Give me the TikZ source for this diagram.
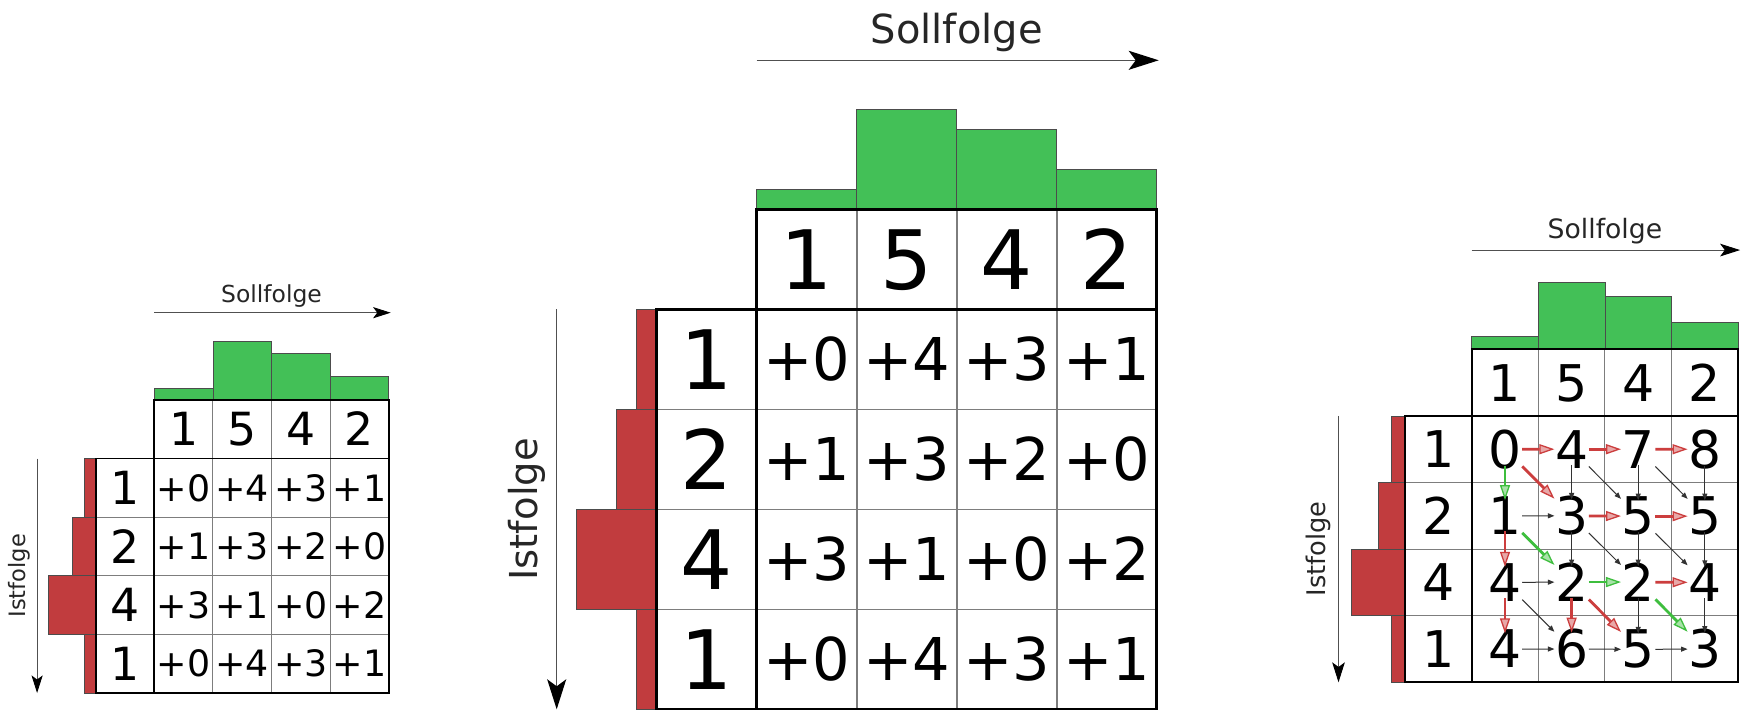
\documentclass[tikz,border=0pt]{standalone}
\usepackage{fontspec}
\setmainfont{DejaVu Sans}
\usetikzlibrary{arrows.meta}

\definecolor{barGreen}{RGB}{67,192,87}
\definecolor{barRed}{RGB}{193,60,62}
\definecolor{gridGray}{RGB}{125,125,125}
\definecolor{pathRed}{RGB}{204,62,62}
\definecolor{pathGreen}{RGB}{62,190,62}
\definecolor{axisGray}{RGB}{80,80,80}

\tikzset{
  digit/.style={inner sep=0pt, anchor=base, text=black},
  cellnum/.style={inner sep=0.5pt, anchor=base, text=black},
  blkarrow/.style={-{Triangle[length=6.5pt,width=5pt]}, line width=1pt, draw=black!80},
  redarrow/.style={-{Triangle[length=15pt,width=10pt,line width=1.3pt,fill=pathRed!45]}, line width=2.8pt, draw=pathRed},
  grnarrow/.style={-{Triangle[length=15pt,width=10pt,line width=1.3pt,fill=pathGreen!45]}, line width=2.8pt, draw=pathGreen},
  vert/.style={shorten <=-4pt, shorten >=-4pt},
}

% Frame, histograms, header, row labels and direction arrows of one table.
% #1 name prefix, #2 x of first data column, #3 y of header top, #4 cell size,
% #5 digit size factor for header and row labels
\newcommand\tablepanel[5]{%
 \begin{scope}[shift={(#2,#3)}]
  \pgfmathsetmacro\cellw{#4}
  \pgfmathsetmacro\barunit{#4/5}
  \pgfmathsetmacro\lwA{0.028*#4}
  \pgfmathsetmacro\lwB{0.016*#4}
  \pgfmathsetmacro\lwC{0.011*#4}
  \pgfmathsetmacro\lwD{0.015*#4}
  \pgfmathsetmacro\emBig{#5*#4}
  \pgfmathsetmacro\emLab{0.4*#4}
  \pgfmathsetmacro\emIst{0.385*#4}
  \pgfmathsetmacro\tipL{0.3*#4}
  \pgfmathsetmacro\tipW{0.19*#4}
  \pgfmathsetmacro\tipI{0.07*#4}
  % histogram of the target sequence
  \foreach \v [count=\i from 0] in {1,5,4,2}
    \filldraw[fill=barGreen, draw=black!70, line width=\lwC pt]
      (\i*\cellw,0) rectangle ({(\i+1)*\cellw},{-\v*\barunit});
  % histogram of the actual sequence
  \foreach \v [count=\j from 1] in {1,2,4,1}
    \filldraw[fill=barRed, draw=black!70, line width=\lwC pt]
      ({-\cellw-\v*\barunit},\j*\cellw) rectangle (-\cellw,{(\j+1)*\cellw});
  % inner grid lines
  \foreach \i in {1,2,3}
    \draw[gridGray, line width=\lwB pt] (\i*\cellw,0) -- (\i*\cellw,5*\cellw);
  \foreach \j in {2,3,4}
    \draw[gridGray, line width=\lwB pt] (-\cellw,\j*\cellw) -- (4*\cellw,\j*\cellw);
  % outer frame
  \draw[line width=\lwA pt] (0,0) rectangle (4*\cellw,5*\cellw);
  \draw[line width=\lwA pt] (-\cellw,\cellw) rectangle (0,5*\cellw);
  \draw[line width=\lwA pt] (0,\cellw) -- (4*\cellw,\cellw);
  % header digits
  \foreach \v [count=\i from 0] in {1,5,4,2}
    \node[digit, font=\fontsize{\emBig pt}{\emBig pt}\selectfont] (#1-h\i)
      at ({(\i+0.5)*\cellw},{0.5*\cellw+0.3645*\emBig}) {\v};
  % row labels
  \foreach \v [count=\j from 1] in {1,2,4,1}
    \node[digit, font=\fontsize{\emBig pt}{\emBig pt}\selectfont] (#1-r\j)
      at ({-0.5*\cellw},{(\j+0.5)*\cellw+0.3645*\emBig}) {\v};
  % direction arrows
  \coordinate (#1-sa) at (0,-1.49*\cellw);
  \coordinate (#1-sb) at (4*\cellw+2,-1.49*\cellw);
  \draw[axisGray, line width=\lwD pt,
        -{Stealth[length=\tipL pt,width=\tipW pt,inset=\tipI pt,black]}] (#1-sa) -- (#1-sb);
  \node[digit, font=\fontsize{\emLab pt}{\emLab pt}\selectfont, text=black!85] (#1-soll)
      at (2*\cellw,-1.66*\cellw) {Sollfolge};
  \coordinate (#1-ia) at (-2*\cellw,\cellw);
  \coordinate (#1-ib) at (-2*\cellw,5*\cellw);
  \draw[axisGray, line width=\lwD pt,
        -{Stealth[length=\tipL pt,width=\tipW pt,inset=\tipI pt,black]}] (#1-ia) -- (#1-ib);
  \node[inner sep=0pt, rotate=90, font=\fontsize{\emIst pt}{\emIst pt}\selectfont, text=black!85] (#1-ist)
      at (-2.3*\cellw,3*\cellw) {Istfolge};
 \end{scope}}

% Cost table: absolute differences as "+n"
% #1 prefix, #2 x0, #3 y0, #4 cell size, #5 digit size factor
\newcommand\costcells[5]{%
 \begin{scope}[shift={(#2,#3)}]
  \pgfmathsetmacro\cellw{#4}
  \pgfmathsetmacro\emSm{#5*#4}
  \foreach \rowvals [count=\j from 1] in {{0,4,3,1},{1,3,2,0},{3,1,0,2},{0,4,3,1}}
    \foreach \v [count=\i from 0] in \rowvals
      \node[digit, font=\fontsize{\emSm pt}{\emSm pt}\selectfont] (#1-d\j\i)
        at ({(\i+0.5)*\cellw},{(\j+0.5)*\cellw+0.3645*\emSm}) {+\v};
 \end{scope}}

\begin{document}
\begin{tikzpicture}[x=1pt,y=-1pt]
  \useasboundingbox (0,0) rectangle (1744,709);
  \clip (0,0) rectangle (1744,709);
  \fill[white] (0,0) rectangle (1744,709);

  % small cost table
  \tablepanel{a}{154.3}{400}{58.6}{0.78}
  \costcells{a}{154.3}{400}{58.6}{0.62}

  % large cost table
  \tablepanel{b}{756.7}{209.3}{100}{0.82}
  \costcells{b}{756.7}{209.3}{100}{0.59}

  % accumulated costs with predecessor arrows
  \tablepanel{c}{1471.7}{349.3}{66.6}{0.76}
  \begin{scope}[shift={(1471.7,349.3)}]
    \pgfmathsetmacro\cellw{66.6}
    \pgfmathsetmacro\emNum{0.78*66.6}
    \foreach \rowvals [count=\j from 1] in {{0,4,7,8},{1,3,5,5},{4,2,2,4},{4,6,5,3}}
      \foreach \v [count=\i from 1] in \rowvals
        \node[cellnum, font=\fontsize{\emNum pt}{\emNum pt}\selectfont] (c-n\j\i)
          at ({(\i-0.5)*\cellw},{(\j+0.5)*\cellw+0.3645*\emNum}) {\v};
  \end{scope}

  % plain transitions
  \draw[blkarrow] (c-n21) -- (c-n22);
  \draw[blkarrow] (c-n31) -- (c-n32);
  \draw[blkarrow] (c-n41) -- (c-n42);
  \draw[blkarrow] (c-n42) -- (c-n43);
  \draw[blkarrow] (c-n43) -- (c-n44);
  \draw[blkarrow, vert] (c-n12) -- (c-n22);
  \draw[blkarrow, vert] (c-n22) -- (c-n32);
  \draw[blkarrow, vert] (c-n13) -- (c-n23);
  \draw[blkarrow, vert] (c-n23) -- (c-n33);
  \draw[blkarrow, vert] (c-n33) -- (c-n43);
  \draw[blkarrow, vert] (c-n14) -- (c-n24);
  \draw[blkarrow, vert] (c-n24) -- (c-n34);
  \draw[blkarrow, vert] (c-n34) -- (c-n44);
  \draw[blkarrow] (c-n12) -- (c-n23);
  \draw[blkarrow] (c-n13) -- (c-n24);
  \draw[blkarrow] (c-n22) -- (c-n33);
  \draw[blkarrow] (c-n23) -- (c-n34);
  \draw[blkarrow] (c-n31) -- (c-n42);

  % red transitions
  \draw[redarrow] (c-n11) -- (c-n12);
  \draw[redarrow] (c-n12) -- (c-n13);
  \draw[redarrow] (c-n13) -- (c-n14);
  \draw[redarrow] (c-n22) -- (c-n23);
  \draw[redarrow] (c-n23) -- (c-n24);
  \draw[redarrow] (c-n33) -- (c-n34);
  \draw[redarrow] (c-n11) -- (c-n22);
  \draw[redarrow] (c-n32) -- (c-n43);
  \draw[redarrow, vert] (c-n21) -- (c-n31);
  \draw[redarrow, vert] (c-n31) -- (c-n41);
  \draw[redarrow, vert] (c-n32) -- (c-n42);

  % green transitions
  \draw[grnarrow, vert] (c-n11) -- (c-n21);
  \draw[grnarrow] (c-n21) -- (c-n32);
  \draw[grnarrow] (c-n32) -- (c-n33);
  \draw[grnarrow] (c-n33) -- (c-n44);
\end{tikzpicture}
\end{document}
